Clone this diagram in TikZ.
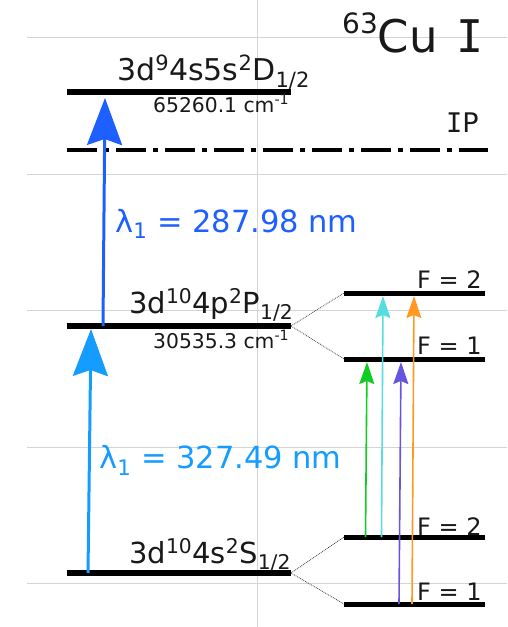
\documentclass[tikz,border=0pt]{standalone}
\usepackage{fontspec}
\setmainfont{DejaVu Sans}
\setmonofont{DejaVu Sans Mono}
\usetikzlibrary{arrows.meta}
\definecolor{gridgray}{HTML}{D4D4D4}
\definecolor{blueA}{HTML}{1E60FF}
\definecolor{blueB}{HTML}{149CFF}
\definecolor{grn}{HTML}{11CC22}
\definecolor{cyn}{HTML}{55DDE0}
\definecolor{prp}{HTML}{6655DD}
\definecolor{org}{HTML}{FF9922}
\begin{document}
\begin{tikzpicture}[x=1pt,y=-1pt,
  lvl/.style={line width=6.5pt},
  hfs/.style={line width=5pt},
  grd/.style={gridgray,line width=1pt},
  conn/.style={densely dotted,line width=0.8pt,black!75},
  bigarr/.style={line width=3pt,-{Stealth[length=47pt,width=35pt,inset=6pt]}},
  smallarr/.style={line width=1.6pt,-{Stealth[length=22pt,width=15pt,inset=3pt]}},
  txt/.style={inner sep=0pt,anchor=base west,text=black!90},
  big/.style={txt,font=\fontsize{29}{30}\selectfont},
  lam/.style={txt,font=\fontsize{30.5}{31}\selectfont},
  mid/.style={txt,font=\fontsize{24}{25}\selectfont},
  sml/.style={txt,font=\fontsize{20.3}{21}\selectfont}]
\useasboundingbox (0,0) rectangle (507,627);
% grid
\foreach \yy in {37,174,310,447,583} \draw[grd] (27,\yy) -- (507,\yy);
\draw[grd] (257,0) -- (257,627);
% level coordinates
\coordinate (Dl) at (67,92);   \coordinate (Dr) at (291,92);
\coordinate (IPl) at (67,150); \coordinate (IPr) at (488,150);
\coordinate (Pl) at (67,326);  \coordinate (Pr) at (291,326);
\coordinate (Sl) at (67,573);  \coordinate (Sr) at (291,573);
\coordinate (P2l) at (344,293); \coordinate (P2r) at (485,293);
\coordinate (P1l) at (344,359); \coordinate (P1r) at (485,359);
\coordinate (S2l) at (344,537); \coordinate (S2r) at (485,537);
\coordinate (S1l) at (344,604); \coordinate (S1r) at (485,604);
% levels
\draw[lvl] (Dl) -- (Dr);
\draw[lvl] (Pl) -- (Pr);
\draw[lvl] (Sl) -- (Sr);
\draw[line width=4.5pt,dash pattern=on 30pt off 7pt on 5pt off 7pt] (IPl) -- (IPr);
\draw[hfs] (P2l) -- (P2r);
\draw[hfs] (P1l) -- (P1r);
\draw[hfs] (S2l) -- (S2r);
\draw[hfs] (S1l) -- (S1r);
% hyperfine connectors
\draw[conn] (Pr) -- (P2l);
\draw[conn] (Pr) -- (P1l);
\draw[conn] (Sr) -- (S2l);
\draw[conn] (Sr) -- (S1l);
% big arrows
\coordinate (a1s) at (103,326); \coordinate (a1e) at (105,98);
\coordinate (a2s) at (88,573);  \coordinate (a2e) at (91,329);
\draw[bigarr,blueA] (a1s) -- (a1e);
\draw[bigarr,blueB] (a2s) -- (a2e);
% small arrows
\coordinate (gs) at (365.5,537); \coordinate (ge) at (367,362);
\coordinate (cs) at (381.5,537); \coordinate (ce) at (383,296);
\coordinate (ps) at (399,604);   \coordinate (pe) at (401,362);
\coordinate (os) at (412,604);   \coordinate (oe) at (414,296);
\draw[smallarr,grn] (gs) -- (ge);
\draw[smallarr,cyn] (cs) -- (ce);
\draw[smallarr,prp] (ps) -- (pe);
\draw[smallarr,org] (os) -- (oe);
% labels
\node[txt,font=\fontsize{45}{46}\selectfont] (title) at (342,52)
  {\raisebox{19pt}{\fontsize{28}{28}\selectfont 63}Cu\hspace{4pt} {\ttfamily I}};
\node[txt,font=\fontsize{30}{31}\selectfont] (Dlab) at (117,80) {3d\textsuperscript{9}4s5s\textsuperscript{2}D\textsubscript{1/2}};
\node[sml] (Dene) at (153,112) {65260.1 cm\textsuperscript{-1}};
\node[txt,font=\fontsize{27}{28}\selectfont] (IPlab) at (446,132) {{\ttfamily I}P};
\node[lam,text=blueA] (lam1) at (115,232) {λ\textsubscript{1} = 287.98 nm};
\node[big] (Plab) at (129,313) {3d\textsuperscript{10}4p\textsuperscript{2}P\textsubscript{1/2}};
\node[sml] (Pene) at (153,348) {30535.3 cm\textsuperscript{-1}};
\node[lam,text=blueB] (lam2) at (99,468) {λ\textsubscript{1} = 327.49 nm};
\node[big] (Slab) at (129,563) {3d\textsuperscript{10}4s\textsuperscript{2}S\textsubscript{1/2}};
\node[mid] (fP2) at (417,288) {F = 2};
\node[mid] (fP1) at (417,354) {F = 1};
\node[mid] (fS2) at (417,535) {F = 2};
\node[mid] (fS1) at (417,600) {F = 1};
\end{tikzpicture}
\end{document}
